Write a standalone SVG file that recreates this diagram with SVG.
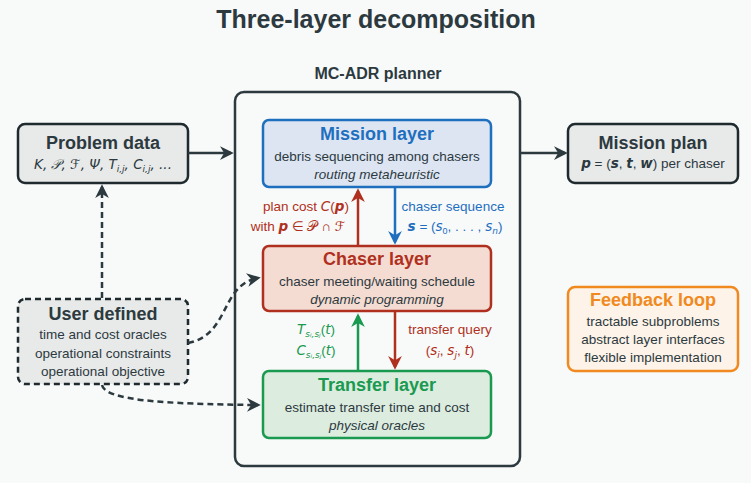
<svg xmlns="http://www.w3.org/2000/svg" width="751" height="483" viewBox="0 0 751 483">
<style>
text{font-family:"Liberation Sans","DejaVu Sans",sans-serif;text-anchor:middle;fill:#2c3a3f}
.t{font-weight:bold;font-size:18px}
.s{font-size:13.5px}
.i{font-size:13.5px;font-style:italic}
.m{font-family:"DejaVu Sans","Liberation Sans",sans-serif;font-style:italic}
</style>
<defs>
<marker id="ad" viewBox="0 0 10 10" refX="8" refY="5" markerWidth="5.5" markerHeight="5.5" orient="auto"><path d="M0,0L10,5L0,10L3,5z" fill="#2c3a3f"/></marker>
<marker id="ar" viewBox="0 0 10 10" refX="8" refY="5" markerWidth="5.5" markerHeight="5.5" orient="auto"><path d="M0,0L10,5L0,10L3,5z" fill="#b03020"/></marker>
<marker id="ab" viewBox="0 0 10 10" refX="8" refY="5" markerWidth="5.5" markerHeight="5.5" orient="auto"><path d="M0,0L10,5L0,10L3,5z" fill="#1f6fbf"/></marker>
<marker id="ag" viewBox="0 0 10 10" refX="8" refY="5" markerWidth="5.5" markerHeight="5.5" orient="auto"><path d="M0,0L10,5L0,10L3,5z" fill="#1a9a50"/></marker>
</defs>
<rect width="751" height="483" fill="#f8f9f9"/>
<text x="376" y="28" style="font-size:25px;font-weight:bold">Three-layer decomposition</text>
<g id="planner">
<text x="378" y="79" style="font-size:16px;font-weight:bold">MC-ADR planner</text>
<rect x="235" y="92" width="285" height="374" rx="9" fill="#f8f9f9" stroke="#2c3a3f" stroke-width="2.5"/>
</g>
<g id="mission">
<rect x="263" y="120" width="228" height="67" rx="6" fill="#dde5f3" stroke="#1f6fbf" stroke-width="2.5"/>
<text x="377" y="140" class="t" style="fill:#1f6fbf">Mission layer</text>
<text x="377" y="161" class="s">debris sequencing among chasers</text>
<text x="377" y="179" class="i">routing metaheuristic</text>
</g>
<g id="chaser">
<rect x="263" y="246" width="228" height="65" rx="6" fill="#f5dcd2" stroke="#b03020" stroke-width="2.5"/>
<text x="377" y="265" class="t" style="fill:#b03020">Chaser layer</text>
<text x="377" y="286" class="s">chaser meeting/waiting schedule</text>
<text x="377" y="304" class="i">dynamic programming</text>
</g>
<g id="transfer">
<rect x="263" y="371" width="228" height="67" rx="6" fill="#dcecdf" stroke="#1a9a50" stroke-width="2.5"/>
<text x="377" y="391" class="t" style="fill:#1a9a50">Transfer layer</text>
<text x="377" y="412" class="s">estimate transfer time and cost</text>
<text x="377" y="430" class="i">physical oracles</text>
</g>
<g id="problem">
<rect x="18" y="124" width="170" height="59" rx="7" fill="#e8e9e9" stroke="#1e2a2e" stroke-width="2.5"/>
<text x="103" y="149" class="t">Problem data</text>
<text x="103" y="169" class="s m"><tspan>K, 𝒫, ℱ, Ψ, T</tspan><tspan font-size="9" dy="3">i,j</tspan><tspan dy="-3">, C</tspan><tspan font-size="9" dy="3">i,j</tspan><tspan dy="-3">, ...</tspan></text>
</g>
<g id="plan">
<rect x="568" y="124" width="170" height="59" rx="7" fill="#e8e9e9" stroke="#1e2a2e" stroke-width="2.5"/>
<text x="653" y="149" class="t">Mission plan</text>
<text x="653" y="168" class="s"><tspan class="m" font-weight="bold">p</tspan> = (<tspan font-weight="bold" class="m">s</tspan>, <tspan font-weight="bold" class="m">t</tspan>, <tspan font-weight="bold" class="m">w</tspan>) per chaser</text>
</g>
<g id="user">
<rect x="18" y="299" width="170" height="85" rx="7" fill="#e8e9e9" stroke="#1e2a2e" stroke-width="2.5" stroke-dasharray="6,4"/>
<text x="103" y="320" class="t">User defined</text>
<text x="103" y="339" class="s">time and cost oracles</text>
<text x="103" y="358" class="s">operational constraints</text>
<text x="103" y="376" class="s">operational objective</text>
</g>
<g id="feedback">
<rect x="568" y="287" width="170" height="84" rx="7" fill="#fdf3e8" stroke="#f08a20" stroke-width="2.5"/>
<text x="653" y="306" class="t" style="fill:#f08a20">Feedback loop</text>
<text x="653" y="326" class="s">tractable subproblems</text>
<text x="653" y="344" class="s">abstract layer interfaces</text>
<text x="653" y="362" class="s">flexible implementation</text>
</g>
<g id="connectors" fill="none" stroke-width="2.5">
<path d="M188,153H231" stroke="#2c3a3f" marker-end="url(#ad)"/>
<path d="M520,153H565" stroke="#2c3a3f" marker-end="url(#ad)"/>
<path d="M102,298V187" stroke="#2c3a3f" stroke-dasharray="6,4" marker-end="url(#ad)"/>
<path d="M188,343C230,335 220,285 258,278" stroke="#2c3a3f" stroke-dasharray="6,4" marker-end="url(#ad)"/>
<path d="M102,385C105,400 160,404 258,405" stroke="#2c3a3f" stroke-dasharray="6,4" marker-end="url(#ad)"/>
<path d="M358,246V191" stroke="#b03020" marker-end="url(#ar)"/>
<path d="M395,187V242" stroke="#1f6fbf" marker-end="url(#ab)"/>
<path d="M358,371V316" stroke="#1a9a50" marker-end="url(#ag)"/>
<path d="M395,311V367" stroke="#b03020" marker-end="url(#ar)"/>
</g>
<g id="labels">
<text x="306" y="211" class="s" style="fill:#b03020">plan cost <tspan class="m">C</tspan>(<tspan class="m" font-weight="bold">p</tspan>)</text>
<text x="298" y="231" class="s" style="fill:#b03020">with <tspan class="m" font-weight="bold">p</tspan> ∈ 𝒫 ∩ ℱ</text>
<text x="453" y="211" class="s" style="fill:#1f6fbf">chaser sequence</text>
<text x="455" y="231" class="s" style="fill:#1f6fbf"><tspan class="m" font-weight="bold">s</tspan> = (<tspan class="m">s</tspan><tspan font-size="9" dy="3">0</tspan><tspan dy="-3">, . . . , </tspan><tspan class="m">s</tspan><tspan font-size="9" dy="3" class="m">n</tspan><tspan dy="-3">)</tspan></text>
<text x="316" y="334" class="s" style="fill:#1a9a50"><tspan class="m">T</tspan><tspan font-size="9" dy="3" class="m">sᵢ,sⱼ</tspan><tspan dy="-3">(</tspan><tspan class="m">t</tspan>)</text>
<text x="316" y="355" class="s" style="fill:#1a9a50"><tspan class="m">C</tspan><tspan font-size="9" dy="3" class="m">sᵢ,sⱼ</tspan><tspan dy="-3">(</tspan><tspan class="m">t</tspan>)</text>
<text x="450" y="334" class="s" style="fill:#b03020">transfer query</text>
<text x="450" y="355" class="s" style="fill:#b03020">(<tspan class="m">s</tspan><tspan font-size="9" dy="3" class="m">i</tspan><tspan dy="-3">, </tspan><tspan class="m">s</tspan><tspan font-size="9" dy="3" class="m">j</tspan><tspan dy="-3">, </tspan><tspan class="m">t</tspan>)</text>
</g>
</svg>
